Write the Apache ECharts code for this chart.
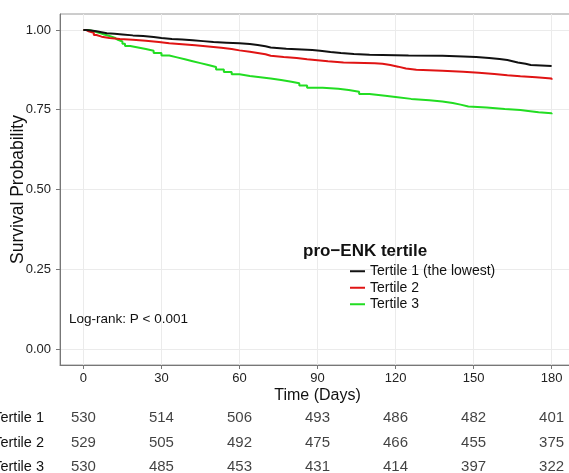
<!DOCTYPE html>
<html><head><meta charset="utf-8">
<script src="https://cdn.jsdelivr.net/npm/echarts@6/dist/echarts.min.js"></script>
<style>html,body{margin:0;padding:0;background:#fff}#c{width:569px;height:473px}</style>
</head><body><div id="c"></div>
<script>
const xTicks = [0, 30, 60, 90, 120, 150, 180];
const yTicks = [0, 0.25, 0.5, 0.75, 1];
const tableRows = ['Tertile 1', 'Tertile 2', 'Tertile 3'];
const legendNames = ['Tertile 1 (the lowest)', 'Tertile 2', 'Tertile 3'];
const colors = ['#111111', '#e01414', '#22dd22'];

const t1Days = [0, 1, 3, 5, 7, 9, 12, 15, 19, 23, 27, 30, 34, 38, 42, 46, 50, 55, 60, 64, 67, 70, 72, 78, 84, 88, 91, 95, 99, 104, 110, 125, 138, 146, 151, 156, 160, 163, 165, 167, 170, 172, 180];
const t1Surv = [1.000, 0.998, 0.996, 0.993, 0.990, 0.988, 0.986, 0.983, 0.981, 0.978, 0.975, 0.972, 0.970, 0.968, 0.965, 0.962, 0.960, 0.958, 0.956, 0.953, 0.949, 0.945, 0.941, 0.939, 0.937, 0.935, 0.931, 0.928, 0.925, 0.922, 0.920, 0.919, 0.917, 0.915, 0.912, 0.909, 0.906, 0.902, 0.898, 0.894, 0.890, 0.887, 0.885];

const t2Days = [0, 1, 2, 4, 5, 7, 10, 14, 19, 24, 29, 33, 38, 43, 48, 53, 57, 60, 64, 67, 70, 72, 77, 82, 86, 90, 94, 100, 112, 115, 118, 121, 124, 128, 138, 146, 152, 158, 163, 168, 174, 180];
const t2Surv = [1.000, 0.996, 0.991, 0.984, 0.979, 0.975, 0.972, 0.969, 0.966, 0.962, 0.958, 0.955, 0.952, 0.948, 0.944, 0.940, 0.936, 0.932, 0.928, 0.924, 0.919, 0.915, 0.912, 0.908, 0.905, 0.902, 0.898, 0.896, 0.894, 0.890, 0.885, 0.879, 0.875, 0.872, 0.869, 0.866, 0.862, 0.858, 0.855, 0.852, 0.848, 0.844];

const t3Days = [0, 2, 4, 6, 8, 10, 12, 13, 15, 16, 18, 21, 24, 27, 30, 33, 36, 39, 42, 45, 48, 51, 54, 57, 60, 64, 68, 72, 76, 80, 83, 86, 92, 98, 102, 106, 110, 116, 120, 126, 133, 138, 142, 145, 148, 155, 162, 168, 171, 175, 180];
const t3Surv = [1.000, 0.996, 0.991, 0.986, 0.981, 0.976, 0.970, 0.964, 0.957, 0.950, 0.945, 0.940, 0.935, 0.928, 0.920, 0.914, 0.908, 0.902, 0.896, 0.890, 0.884, 0.876, 0.868, 0.861, 0.856, 0.852, 0.848, 0.843, 0.838, 0.833, 0.826, 0.819, 0.816, 0.812, 0.806, 0.799, 0.794, 0.790, 0.784, 0.780, 0.776, 0.771, 0.766, 0.760, 0.757, 0.752, 0.749, 0.746, 0.742, 0.739, 0.736];

const risk1 = [530, 514, 506, 493, 486, 482, 401];
const risk2 = [529, 505, 492, 475, 466, 455, 375];
const risk3 = [530, 485, 453, 431, 414, 397, 322];

const FONT = 'Liberation Sans, Arial, sans-serif';
const zip = (a, b) => a.map((v, i) => [v, b[i]]);
const curves = [zip(t1Days, t1Surv), zip(t2Days, t2Surv), zip(t3Days, t3Surv)];
const risks = [risk1, risk2, risk3];

const riskData = [];
risks.forEach((arr, r) => arr.forEach((n, i) => riskData.push([xTicks[i], tableRows[r], n])));

const chart = echarts.init(document.getElementById('c'), null, {renderer: 'canvas'});
chart.setOption({
  animation: false,
  backgroundColor: '#ffffff',
  textStyle: {fontFamily: FONT},
  title: [
    {text: 'pro\u2212ENK tertile', left: 303, top: 243, padding: 0,
     textStyle: {fontFamily: FONT, fontSize: 17, fontWeight: 'bold', color: '#111'}},
    {text: 'Log-rank: P < 0.001', left: 69, top: 312, padding: 0,
     textStyle: {fontFamily: FONT, fontSize: 13.5, fontWeight: 'normal', color: '#111'}}
  ],
  legend: {
    data: legendNames, orient: 'vertical', left: 350, top: 263, padding: 0,
    itemGap: 0, itemWidth: 15, itemHeight: 2, icon: 'rect',
    textStyle: {fontFamily: FONT, fontSize: 14, color: '#111', lineHeight: 16.5}
  },
  grid: [
    {left: 60, right: -6, top: 14, bottom: 108, show: true, borderColor: '#9a9a9a', borderWidth: 1,
     backgroundColor: 'transparent', containLabel: false, outerBoundsMode: 'none'},
    {left: 60, right: -6, top: 406, height: 73.5, containLabel: false, outerBoundsMode: 'none'}
  ],
  xAxis: [
    {type: 'value', gridIndex: 0, min: -9, max: 189,
     name: 'Time (Days)', nameLocation: 'middle', nameGap: 23, nameMoveOverlap: false,
     nameTextStyle: {fontFamily: FONT, fontSize: 16, color: '#111'},
     axisLine: {show: true, onZero: false, lineStyle: {color: '#777', width: 1}},
     axisTick: {show: true, length: 4, customValues: xTicks, lineStyle: {color: '#777'}},
     axisLabel: {customValues: xTicks, margin: 7, fontFamily: FONT, fontSize: 13, color: '#222'},
     splitLine: {show: true, lineStyle: {color: '#ebebeb', width: 1}}},
    {type: 'value', gridIndex: 1, min: -9, max: 189, show: false}
  ],
  yAxis: [
    {type: 'value', gridIndex: 0, min: -0.05, max: 1.05,
     name: 'Survival Probability', nameLocation: 'middle', nameGap: 33, nameMoveOverlap: false,
     nameTextStyle: {fontFamily: FONT, fontSize: 17.5, color: '#111'},
     axisLine: {show: true, onZero: false, lineStyle: {color: '#777', width: 1}},
     axisTick: {show: true, length: 4, customValues: yTicks, lineStyle: {color: '#777'}},
     axisLabel: {customValues: yTicks, margin: 9, fontFamily: FONT, fontSize: 13, color: '#222',
                 formatter: v => Number(v).toFixed(2)},
     splitLine: {show: true, lineStyle: {color: '#ebebeb', width: 1}}},
    {type: 'category', gridIndex: 1, data: tableRows, inverse: true,
     axisLine: {show: false}, axisTick: {show: false}, splitLine: {show: false},
     axisLabel: {margin: 16, fontFamily: FONT, fontSize: 14.5, color: '#111'}}
  ],
  series: [
    ...curves.map((d, i) => ({
      name: legendNames[i], type: 'line', step: 'end', data: d,
      xAxisIndex: 0, yAxisIndex: 0, symbol: 'none', showSymbol: false,
      lineStyle: {color: colors[i], width: 2}, itemStyle: {color: colors[i]}, z: 5 - i
    })),
    {type: 'scatter', xAxisIndex: 1, yAxisIndex: 1, data: riskData, symbolSize: 1,
     itemStyle: {color: 'rgba(0,0,0,0)'}, silent: true,
     label: {show: true, position: 'inside', formatter: p => String(p.value[2]),
             fontFamily: FONT, fontSize: 15, color: '#111'}}
  ]
});
</script></body></html>
